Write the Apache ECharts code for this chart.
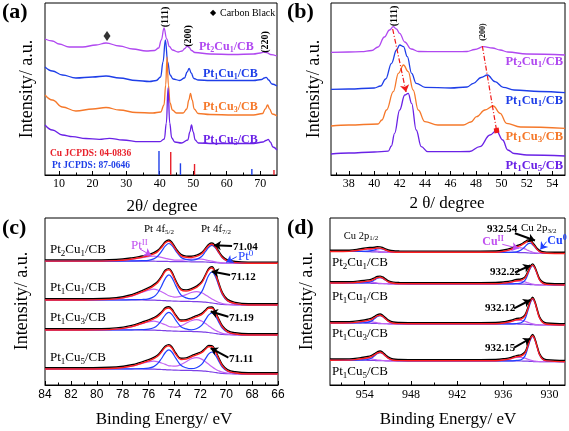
<!DOCTYPE html>
<html><head><meta charset="utf-8">
<script src="https://cdn.jsdelivr.net/npm/echarts@6/dist/echarts.min.js"></script>
<style>html,body{margin:0;padding:0;background:#fff}#c{width:569px;height:431px}</style>
</head><body><div id="c"></div><script>
// ---------- DATA ----------
// (a) XRD wide scan  [2theta, intensity a.u. (offset)]
const pt21A=[[5.8,136],[8,134],[10,131],[13,128],[17,128],[21,130],[24,132],[28,129],[32,126],[36,124],[38.5,124.5],[39.7,127],[40.5,135],[41.3,147],[42.1,136],[42.9,128.5],[43.8,125],[45.5,123],[46.7,124],[47.5,126.5],[48.2,129],[48.8,127.5],[49.5,124.5],[50.5,122.5],[55,121],[62,120.5],[68,121],[70,122],[71,122.8],[72,122.3],[73,120.5],[75,119]];
const pt11A=[[5.8,108],[8,104],[11,100],[15,97],[20,98],[24,99],[28,97],[33,94.5],[37,93.5],[39,94.5],[40.3,98],[41.0,113],[41.7,135],[42.4,113],[43.1,100],[44,96],[46,94.5],[47.4,97],[48.2,103],[48.8,106.7],[49.4,102],[50.2,96.5],[51.5,95],[55,94.5],[62,94.5],[68,94.5],[70.4,95.5],[71.2,97],[71.8,97.7],[72.5,95],[73.5,91],[75,89]];
const pt13A=[[5.8,80],[8,75],[11,68],[15,64],[20,66],[24,67.5],[28,65],[33,62.5],[38,62],[40.3,63],[41.3,70],[41.8,90],[42.2,118],[42.6,90],[43.1,72],[43.8,65],[45,62],[47,62],[48.1,66],[48.7,75],[49.2,81.7],[49.7,75],[50.3,66],[51.5,61.5],[55,60.5],[62,60],[68,60],[70.7,61.5],[71.5,66],[72.2,70],[72.8,66],[73.6,61],[75,59]];
const pt15A=[[5.8,50],[8,45],[11,40],[14,38.3],[18,36.5],[22,35.7],[25,36.7],[29,35],[34,33.3],[40,33.3],[41.4,36],[42.0,52],[42.5,87],[43.0,52],[43.6,37],[44.5,33],[46.5,32],[48.4,35],[49.0,43],[49.5,50],[50.0,43],[50.6,35],[51.5,32],[56,31.5],[63,31.5],[68,31.5],[70.8,33],[71.7,34.5],[72.4,35.7],[73,33],[73.8,28],[75,25]];
const cuRefPos=[43.3,50.4,74.1], cuRefInt=[23,11,5];
const ptRefPos=[39.8,46.2,67.5], ptRefInt=[24,11.7,6];
const carbonMark=[24.3,139];
// (b) XRD zoom
const pt21B=[[36.6,122.7],[38,123],[39,123.3],[39.8,124.5],[40.3,128],[40.8,138],[41.2,145],[41.5,148.3],[41.75,146],[42.0,141.7],[42.4,133],[42.9,126],[43.5,123.5],[45,123.3],[46.5,123.3],[47.3,123.5],[47.9,125.5],[48.6,128.3],[49.3,127],[49.9,125],[50.5,123],[52,121],[55,120]];
const pt11B=[[36.6,85.7],[38,86],[40,87],[40.5,89],[40.9,96],[41.36,111.7],[41.75,125],[42.0,130],[42.3,128.3],[42.6,118.3],[42.94,101.7],[43.3,91.7],[44,87.7],[46,87],[47.3,88],[47.8,91.7],[48.4,97.5],[48.9,100],[49.5,93.3],[50.15,87.7],[51,85],[53,83.5],[55,82.3]];
const pt13B=[[36.6,49],[38,50],[40.3,51],[40.6,55],[40.97,65],[41.5,83.3],[41.9,101.7],[42.3,110],[42.67,103.3],[43.06,85],[43.46,65],[43.98,53.3],[45,50],[47,50],[47.6,53],[48.05,58.3],[48.7,65],[49.36,69],[49.9,61.7],[50.4,51.7],[51.5,48],[55,46.7]];
const pt15B=[[36.6,21],[38,22],[40,23],[41.1,23.8],[41.35,29],[41.6,41.7],[42.0,65],[42.4,80],[42.67,81.7],[42.94,71.7],[43.3,45],[43.7,28.3],[44.2,23.3],[46,23.3],[47.5,23.5],[48.3,28.3],[49.1,40],[49.6,44.3],[50.1,35],[50.5,25],[51,21.5],[52,20],[55,19]];
const bShift=[[41.45,146,42.5,83,'arrow'],[48.5,129,49.62,44.5,'rect']];
// (c) XPS Pt 4f : binding energy grid, background, Pt0 and PtII components (height above background)
const eC=[84,81,78.5,77.3,76.5,76.0,75.6,75.3,75.0,74.7,74.43,74.2,73.9,73.5,73.1,72.7,72.3,71.9,71.6,71.35,71.1,70.85,70.6,70.3,69.9,69.3,68.3,66];
const bg21C=[123.9,123.9,123.9,123.9,123.9,123.8,123.8,123.7,123.7,123.6,123.5,123.4,123.4,123.3,123.3,123.2,123.2,123.1,123.0,122.8,122.6,122.4,122.1,121.9,121.8,121.7,121.7,121.7];
const pt0_21C=[0,0,0,0.2,0.4,0.9,2.3,5.0,9.9,15.5,18,16.2,10.8,4.5,2.3,1.6,2.4,5.4,10.5,15,17,15,10.5,5.4,2.0,0.7,0,0];
const ptII_21C=[0,0,0.5,1.8,3.5,4.5,5,4.7,3.9,3.1,2.3,1.9,1.5,1.6,2.1,2.7,3,2.7,2.2,1.7,1.2,0.8,0.5,0.3,0.1,0,0,0];
const bg11C=[85,85,85,85,85,84.9,84.8,84.7,84.5,84.3,84.1,84,83.8,83.7,83.6,83.5,83.4,83.2,82.9,82.5,82,81.5,81,80.5,80.3,80.1,80,80];
const pt0_11C=[0,0,0,0.3,0.5,1.3,3.4,7.3,14.3,22.4,26,23.4,15.6,6.5,3.5,2.6,4.2,9.9,19.2,27.3,31,27.3,19.2,9.9,3.7,1.2,0,0];
const ptII_11C=[0,0,1.1,3.9,7.7,9.9,11,10.3,8.8,7.0,5.1,4.5,4.0,4.9,6.8,9,10,9,7.2,5.5,4,2.7,1.8,1.0,0.4,0.1,0,0];
const bg13C=[55,55,55,55,55,54.9,54.8,54.7,54.5,54.3,54.1,54,53.8,53.7,53.6,53.5,53.4,53.2,52.9,52.5,52,51.5,51,50.5,50.3,50.1,50,50];
const pt0_13C=[0,0,0,0.2,0.4,0.9,2.4,5.2,10.2,15.9,18.5,16.7,11.1,4.6,2.5,1.7,2.8,6.4,12.4,17.6,20,17.6,12.4,6.4,2.4,0.8,0,0];
const ptII_13C=[0,0,0.9,3.2,6.3,8.1,9,8.5,7.2,5.9,4.4,4.1,4.0,5.5,8.1,10.8,12,10.8,8.6,6.6,4.8,3.2,2.2,1.2,0.5,0.1,0,0];
const bg15C=[16,16,16,16,16,15.9,15.8,15.7,15.5,15.3,15.1,15,14.8,14.7,14.6,14.5,14.4,14.2,13.9,13.5,13,12.5,12,11.5,11.3,11.1,11,11];
const pt0_15C=[0,0,0,0.2,0.4,1.0,2.6,5.6,11,17.2,20,18,12,5,2.6,1.8,2.8,6.4,12.4,17.6,20,17.6,12.4,6.4,2.4,0.8,0,0];
const ptII_15C=[0,0,0.8,2.8,5.6,7.2,8,7.5,6.5,5.3,4.1,4.0,4.0,5.8,8.7,11.7,13,11.7,9.4,7.2,5.2,3.5,2.3,1.3,0.5,0.1,0,0];
const peakValsC=['71.04','71.12','71.19','71.11'];
const arrowsC=[[69.55,139,70.95,139.8,'#000',2],[69.7,110,71.12,113.5,'#000',2],[69.83,68.3,71.2,73.5,'#000',2],[69.83,27.3,71.2,36.8,'#000',2],[76.66,136,75.8,129.5,'#c050f0',1],[69.19,128.3,70.0,122.7,'#2040ff',1]];
// (d) XPS Cu 2p
const eD=[958.5,956,954.5,953.6,953.1,952.7,952.35,952.0,951.65,951.3,950.9,950.3,949.5,947,943,939,937,935.8,935,934.3,933.7,933.2,932.8,932.5,932.2,931.9,931.6,931.3,930.9,930.4,928];
const bg21D=[133.5,133.5,133.5,133.4,133.2,133.1,133,132.9,132.8,132.8,132.7,132.7,132.7,132.7,132.7,132.7,132.7,132.7,132.6,132.5,132.4,132.3,132.1,131.9,131.8,131.7,131.6,131.5,131.5,131.5,131.5];
const cu0_21D=[0,0,0.1,0.4,1.1,2.1,3.1,3.5,3.1,2.1,1.1,0.3,0.1,0,0,0,0,0,0.1,0.6,2.5,6,9.2,10,8.5,6.2,3.5,1.8,0.7,0.2,0];
const cuII_21D=[0,0.1,1.5,2.4,2,1.4,0.9,0.5,0.3,0.1,0,0,0,0,0,0,0.1,1.3,3,4.8,4.8,3.8,2.5,1.8,1,0.5,0.3,0.1,0,0,0];
const bg11D=[102,102,102,101.9,101.7,101.6,101.5,101.4,101.3,101.3,101.2,101.2,101.2,101.2,101.2,101.2,101.2,101.2,101.1,101,100.9,100.8,100.6,100.4,100.3,100.2,100.1,100,100,100,100];
const cu0_11D=[0,0,0.1,0.6,1.8,3.6,5.3,6,5.3,3.6,1.8,0.5,0.1,0,0,0,0,0,0,0.4,1,3.8,10.5,16.2,19,16.2,10.5,5.1,1.9,0.6,0];
const cuII_11D=[0,0.1,0.9,1.4,1.2,0.8,0.5,0.3,0.2,0.1,0,0,0,0,0,0,0.1,0.8,1.8,2.9,2.9,2.3,1.5,1.1,0.6,0.3,0.2,0.1,0,0,0];
const bg13D=[62,62,62,61.9,61.7,61.6,61.5,61.4,61.3,61.3,61.2,61.2,61.2,61.2,61.2,61.2,61.2,61.2,61.1,61,60.9,60.8,60.6,60.4,60.3,60.2,60.1,60,60,60,60];
const cu0_13D=[0,0,0.2,0.8,2.4,4.8,7,8,7,4.8,2.4,0.6,0.2,0,0,0,0,0,0,0.5,1.3,5.1,14,21.7,25.5,21.7,14,6.9,2.6,0.8,0];
const cuII_13D=[0,0.1,1.2,1.9,1.6,1.1,0.7,0.4,0.2,0.1,0,0,0,0,0,0,0.1,1,2.4,3.8,3.8,3,2,1.4,0.8,0.4,0.2,0.1,0,0,0];
const bg15D=[24.8,24.8,24.8,24.7,24.6,24.5,24.4,24.4,24.3,24.2,24.2,24.2,24.2,24.2,24.2,24.2,24.2,24.2,24.1,24.1,24,23.9,23.8,23.6,23.5,23.4,23.4,23.3,23.3,23.3,23.3];
const cu0_15D=[0,0,0.2,0.8,2.4,4.8,7,8,7,4.8,2.4,0.6,0.2,0,0,0,0,0,0,0.5,1.3,5,13.8,21.3,25,21.3,13.8,6.8,2.5,0.8,0];
const cuII_15D=[0,0.1,1.2,1.8,1.5,1.0,0.6,0.4,0.2,0.1,0,0,0,0,0,0,0.1,1,2.3,3.6,3.7,2.9,1.9,1.3,0.8,0.4,0.2,0.1,0,0,0];
const peakValsD=['932.54','932.22','932.12','932.15'];
const arrowsD=[[934.5,151.7,931.9,144.5,'#000',2],[934.5,112.7,932.5,119.5,'#000',2],[934.6,76.7,932.5,85,'#000',2],[934.6,37.3,932.5,46.5,'#000',2],[936.14,140.7,934.0,136.5,'#c050f0',1],[930.4,143.3,931.2,135.5,'#2040ff',1]];
// ticks
const aTicks=[10,20,30,40,50,60,70], aMinor=[15,25,35,45,55,65];
const bTicks=[38,40,42,44,46,48,50,52,54], bMinor=[37,39,41,43,45,47,49,51,53];
const cTicks=[66,68,70,72,74,76,78,80,82,84], cMinor=[67,69,71,73,75,77,79,81,83];
const dTicks=[930,936,942,948,954], dMinor=[933,939,945,951,957];
const sampleSubs=[['2','1'],['1','1'],['1','3'],['1','5']];

// ---------- STYLE ----------
const SERIF='"Liberation Serif","Times New Roman",serif';
const SANS='"Liberation Sans",Arial,sans-serif';
const SC=['#b048f0','#1e3ee8','#f5782a','#6a22e6'];
const RED='#ff2020', BLUE='#2040ff', MAG='#c464f4', BGC='#7d40e6';

function mainAx(g,min,max,ticks,inv,fam,margin){return {gridIndex:g,type:'value',min,max,inverse:inv,position:'bottom',
 axisLine:{show:true,onZero:false,lineStyle:{color:'#000',width:1}},
 axisTick:{show:true,inside:true,length:4,customValues:ticks,lineStyle:{color:'#000',width:1}},
 axisLabel:{show:true,customValues:ticks,color:'#000',fontFamily:fam||SERIF,fontSize:12,margin:margin,showMinLabel:true,showMaxLabel:true},
 splitLine:{show:false}};}
function minorAx(g,min,max,ticks,inv){return {gridIndex:g,type:'value',min,max,inverse:inv,position:'bottom',
 axisLine:{show:false,onZero:false},axisTick:{show:true,inside:true,length:2.5,customValues:ticks,lineStyle:{color:'#000',width:1}},
 axisLabel:{show:false},splitLine:{show:false}};}

const series=[];
[pt21A,pt11A,pt13A,pt15A].forEach((d,i)=>series.push({type:'line',xAxisIndex:0,yAxisIndex:0,data:d,smooth:0.4,smoothMonotone:'x',symbol:'none',silent:true,lineStyle:{color:SC[i],width:1.3},z:3}));
series.push({type:'bar',xAxisIndex:0,yAxisIndex:0,barWidth:1.4,silent:true,
 data:[...cuRefPos.map((p,i)=>({value:[p,cuRefInt[i]],itemStyle:{color:'#e8202a'}})),...ptRefPos.map((p,i)=>({value:[p,ptRefInt[i]],itemStyle:{color:'#2040e8'}}))]});
series.push({type:'scatter',xAxisIndex:0,yAxisIndex:0,data:[carbonMark],symbol:'diamond',symbolSize:[7,10],itemStyle:{color:'#000'},silent:true});
[pt21B,pt11B,pt13B,pt15B].forEach((d,i)=>series.push({type:'line',xAxisIndex:2,yAxisIndex:1,data:d,smooth:0.4,smoothMonotone:'x',symbol:'none',silent:true,lineStyle:{color:SC[i],width:1.3},z:3}));
series.push({type:'line',xAxisIndex:2,yAxisIndex:1,data:[],silent:true,
 markLine:{silent:true,animation:false,symbol:['none','arrow'],symbolSize:7,label:{show:false},
  lineStyle:{color:'#f01818',width:1.2,type:[5,2,1,2]},
  data:bShift.map(a=>[{coord:[a[0],a[1]]},{coord:[a[2],a[3]],symbol:a[4],symbolSize:a[4]==='rect'?5:7}])}});

// XPS: background, background+component(s), fit = background + both components
function xps(xi,yi,E,bg,c0,c2){
 const pts=f=>E.map((e,i)=>[e,f(i)]);
 const base={type:'line',xAxisIndex:xi,yAxisIndex:yi,symbol:'none',smooth:0.4,silent:true};
 return [
  {...base,data:pts(i=>bg[i]),lineStyle:{color:BGC,width:1.2},z:2},
  {...base,data:pts(i=>bg[i]+c2[i]),lineStyle:{color:MAG,width:1.2},z:3},
  {...base,data:pts(i=>bg[i]+c0[i]),lineStyle:{color:BLUE,width:1.2},z:3},
  {...base,data:pts(i=>bg[i]+c0[i]+c2[i]),lineStyle:{color:RED,width:1.4,shadowColor:'#000',shadowOffsetY:-1.2,shadowBlur:0},z:4}
 ];
}
series.push(...xps(4,2,eC,bg21C,pt0_21C,ptII_21C),...xps(4,2,eC,bg11C,pt0_11C,ptII_11C),
 ...xps(4,2,eC,bg13C,pt0_13C,ptII_13C),...xps(4,2,eC,bg15C,pt0_15C,ptII_15C));
series.push(...xps(6,3,eD,bg21D,cu0_21D,cuII_21D),...xps(6,3,eD,bg11D,cu0_11D,cuII_11D),
 ...xps(6,3,eD,bg13D,cu0_13D,cuII_13D),...xps(6,3,eD,bg15D,cu0_15D,cuII_15D));
function arrowML(list){return {silent:true,animation:false,symbol:['none','arrow'],symbolSize:7,label:{show:false},
 data:list.map(a=>[{coord:[a[0],a[1]],lineStyle:{color:a[4],width:a[5],type:'solid'},itemStyle:{color:a[4]},symbolSize:a[5]>1?8:6},{coord:[a[2],a[3]]}])};}
series.push({type:'line',xAxisIndex:4,yAxisIndex:2,data:[],silent:true,z:6,markLine:arrowML(arrowsC)});
series.push({type:'line',xAxisIndex:6,yAxisIndex:3,data:[],silent:true,z:6,markLine:arrowML(arrowsD)});

// ---------- TEXT ----------
function rich(size,bold,color){const w=bold?'bold':'normal';const ss=Math.round(size*0.68);
 return {n:{fontSize:size,fontFamily:SERIF,fontWeight:w,fill:color},
  s:{fontSize:ss,fontFamily:SERIF,fontWeight:w,fill:color,padding:[Math.round(size*0.5),0,0,0]},
  p:{fontSize:ss,fontFamily:SERIF,fontWeight:w,fill:color,padding:[0,0,Math.round(size*0.55),0]}};}
function txt(x,y,text,o={}){const al=o.align||'left';return {type:'text',x,y,rotation:o.rot||0,silent:true,z:100,
 style:{text,fill:o.color||'#000',font:`${o.bold?'bold ':''}${o.size||12}px ${o.family||SERIF}`,align:al,verticalAlign:'middle',textAlign:al,textVerticalAlign:'middle',rich:o.rich}};}
const lab=s=>`{n|Pt}{s|${s[0]}}{n|Cu}{s|${s[1]}}{n|/CB}`;
const G=[];
[['(a)',2,12],['(b)',287,12],['(c)',2,228],['(d)',287,228]].forEach(p=>G.push(txt(p[1],p[2],p[0],{size:22,bold:true})));
[[27,89],[314,89],[22,301],[307,301]].forEach(p=>G.push(txt(p[0],p[1],'Intensity/ a.u.',{size:18,rot:Math.PI/2,align:'center'})));
G.push(txt(162,206.5,'2θ/ degree',{size:17,align:'center'}));
G.push(txt(447,204,'2 θ/ degree',{size:17,align:'center'}));
G.push(txt(164,420,'Binding Energy/ eV',{size:17,align:'center'}));
G.push(txt(448,420,'Binding Energy/ eV',{size:17,align:'center'}));
// (a)
G.push(txt(165,17,'(111)',{size:10,bold:true,rot:Math.PI/2,align:'center'}));
G.push(txt(188,36,'(200)',{size:10,bold:true,rot:Math.PI/2,align:'center'}));
G.push(txt(265,42,'(220)',{size:10,bold:true,rot:Math.PI/2,align:'center'}));
G.push(txt(210,13,'◆',{size:8}));
G.push(txt(220,13,'Carbon Black',{size:10}));
G.push(txt(50,154,'Cu JCPDS: 04-0836',{size:9.5,bold:true,color:'#e8202a'}));
G.push(txt(52,166,'Pt JCPDS: 87-0646',{size:9.5,bold:true,color:'#2040e8'}));
[[199,47],[203,74],[203,107],[203,140]].forEach((p,i)=>G.push(txt(p[0],p[1],lab(sampleSubs[i]),{rich:rich(12,true,SC[i]),color:SC[i]})));
// (b)
G.push(txt(394.5,16,'(111)',{size:10,bold:true,rot:Math.PI/2,align:'center'}));
G.push(txt(483,32,'(200)',{size:8,bold:true,rot:Math.PI/2,align:'center'}));
[62,101,137,166].forEach((y,i)=>G.push(txt(563,y,lab(sampleSubs[i]),{rich:rich(12.5,true,SC[i]),color:SC[i],align:'right'})));
// (c)
[250,288,318,358].forEach((y,i)=>G.push(txt(50,y,lab(sampleSubs[i]),{rich:rich(13,false,'#000')})));
G.push(txt(159,229,'{n|Pt 4f}{s|5/2}',{rich:rich(11,false,'#000'),align:'center'}));
G.push(txt(216,229,'{n|Pt 4f}{s|7/2}',{rich:rich(11,false,'#000'),align:'center'}));
G.push(txt(131,246,'{n|Pt}{p|II}',{rich:rich(13,false,'#c050f0')}));
G.push(txt(238,257,'{n|Pt}{p|0}',{rich:rich(13,false,'#2040ff')}));
[[233,247],[231,277.5],[229,318.5],[229,359]].forEach((p,i)=>G.push(txt(p[0],p[1],peakValsC[i],{size:11,bold:true})));
// (d)
[263,297,334,372].forEach((y,i)=>G.push(txt(332,y,lab(sampleSubs[i]),{rich:rich(13,false,'#000')})));
G.push(txt(361,236,'{n|Cu 2p}{s|1/2}',{rich:rich(10.5,false,'#000'),align:'center'}));
G.push(txt(521,228,'{n|Cu 2p}{s|3/2}',{rich:rich(11,false,'#000')}));
[[502,229],[505,272.5],[500,308],[500,348]].forEach((p,i)=>G.push(txt(p[0],p[1],peakValsD[i],{size:11,bold:true,align:'center'})));
G.push(txt(493,242,'{n|Cu}{p|II}',{rich:rich(12,true,'#c050f0'),align:'center'}));
G.push(txt(557,241,'{n|Cu}{p|0}',{rich:rich(12,true,'#2040ff'),align:'center'}));

const gridBase={show:true,borderColor:'#000',borderWidth:1,containLabel:false,outerBoundsMode:'none'};
const option={animation:false,backgroundColor:'#fff',
 grid:[{...gridBase,left:45,top:3,width:232,height:172},{...gridBase,left:331,top:3,width:234,height:172},
  {...gridBase,left:45,top:218,width:233,height:167},{...gridBase,left:330,top:218,width:235,height:167}],
 xAxis:[mainAx(0,5.8,75,aTicks,false,SERIF,3),minorAx(0,5.8,75,aMinor,false),
  mainAx(1,36.6,55,bTicks,false,SERIF,3),minorAx(1,36.6,55,bMinor,false),
  mainAx(2,66,84,cTicks,true,SANS,4),minorAx(2,66,84,cMinor,true),
  mainAx(3,928,958.5,dTicks,true,SERIF,4),minorAx(3,928,958.5,dMinor,true)],
 yAxis:[0,1,2,3].map(i=>({gridIndex:i,type:'value',min:0,max:i<2?172:167,show:false})),
 series,
 graphic:{elements:G}};
const chart=echarts.init(document.getElementById('c'),null,{renderer:'canvas'});
chart.setOption(option);
</script></body></html>
